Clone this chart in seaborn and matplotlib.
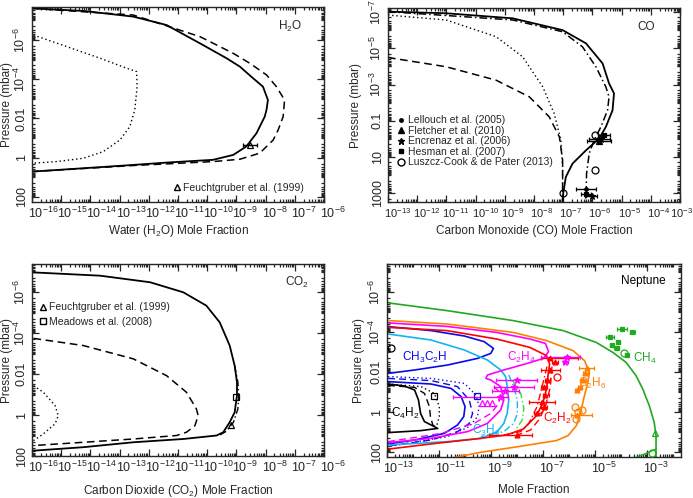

# Four-panel vertical profiles of oxygen species and hydrocarbons (Neptune)
import numpy as np
import matplotlib
matplotlib.use('Agg')
import matplotlib.pyplot as plt
import seaborn as sns
from matplotlib.ticker import FixedLocator, LogLocator, FuncFormatter, NullFormatter, LogFormatterMathtext
from matplotlib.transforms import ScaledTranslation
from matplotlib.lines import Line2D

sns.set_style('ticks')
plt.rcParams['font.family'] = ['Liberation Sans', 'DejaVu Sans']
plt.rcParams['mathtext.fontset'] = 'custom'
plt.rcParams['mathtext.rm'] = 'Liberation Sans'
plt.rcParams['mathtext.it'] = 'Liberation Sans:italic'
plt.rcParams['mathtext.bf'] = 'Liberation Sans:bold'

# --- data: log10(mole fraction), log10(pressure / mbar) ---
# H2O
h2o_solid_x = [-16.0, -14.24, -12.53, -11.39, -10.25, -9.34, -8.88, -8.43, -8.09, -7.92, -7.97, -8.03, -8.31, -8.66, -9.11, -9.80, -11.39, -12.53, -14.24, -16.0]
h2o_solid_p = [-7.61, -7.48, -7.19, -6.76, -5.83, -5.07, -4.64, -4.05, -3.62, -2.94, -2.43, -2.09, -1.25, -0.57, -0.14, 0.11, 0.25, 0.37, 0.54, 0.71]
h2o_dash_x = [-16.0, -12.53, -10.25, -9.11, -8.54, -7.97, -7.63, -7.35, -7.40, -7.57, -7.74, -8.20, -8.88, -9.80, -12.53, -16.0]
h2o_dash_p = [-7.61, -7.27, -6.17, -5.32, -4.81, -4.22, -3.62, -2.94, -2.09, -1.41, -0.90, -0.23, 0.08, 0.20, 0.40, 0.71]
h2o_dot_x = [-15.95, -14.81, -13.67, -12.76, -12.42, -12.40, -12.48, -12.65, -12.99, -13.56, -14.24, -15.16, -15.95]
h2o_dot_p = [-6.25, -5.66, -5.07, -4.56, -4.39, -3.62, -2.43, -1.58, -0.90, -0.31, 0.03, 0.20, 0.28]
h2o_obs_x, h2o_obs_p, h2o_obs_lo, h2o_obs_hi = [-8.54], [-0.66], [-8.77], [-8.31]

# CO
co_solid_x = [-13.0, -11.01, -8.73, -7.02, -6.22, -5.65, -5.43, -5.26, -5.31, -5.54, -5.77, -6.22, -6.68, -6.91, -7.00, -7.02]
co_solid_p = [-7.02, -6.93, -6.65, -6.0, -5.27, -4.16, -3.06, -2.51, -1.58, -0.66, -0.02, 0.63, 1.36, 2.10, 3.02, 3.48]
co_dashdot_x = [-13.0, -8.73, -7.02, -6.34, -5.88, -5.54, -5.43, -5.48, -5.71, -5.94, -6.11, -6.20, -6.22]
co_dashdot_p = [-7.02, -6.56, -5.91, -5.08, -3.98, -2.87, -2.32, -1.58, -0.66, 0.07, 0.81, 1.91, 3.48]
co_dot_x = [-13.0, -11.01, -9.30, -8.39, -7.70, -7.31, -7.08, -7.02, -7.02]
co_dot_p = [-6.83, -6.56, -5.64, -4.53, -2.87, -1.40, 0.07, 1.55, 3.48]
co_dash_x = [-13.0, -11.01, -9.30, -8.16, -7.48, -7.13, -7.02, -7.02]
co_dash_p = [-4.49, -3.98, -3.24, -2.32, -1.22, -0.11, 1.18, 3.48]
co_lellouch_x, co_lellouch_p, co_lellouch_lo, co_lellouch_hi = [-6.22], [2.74], [-6.56], [-5.88]
co_fletcher_x, co_fletcher_p, co_fletcher_lo, co_fletcher_hi = [-5.77], [0.11], [-6.20], [-5.35]
co_encrenaz_x, co_encrenaz_p, co_encrenaz_lo, co_encrenaz_hi = [-5.70, -6.00], [-0.02, 3.17], [-6.10, -6.25], [-5.40, -5.85]
co_hesman_x, co_hesman_p, co_hesman_lo, co_hesman_hi = [-5.60, -6.22], [-0.20, 3.02], [-5.80, -6.40], [-5.40, -6.05]
co_luszcz_x, co_luszcz_p = [-5.90, -5.90, -7.02], [-0.20, 1.73, 2.98]

# CO2
co2_solid_x = [-15.95, -13.67, -11.96, -10.82, -10.03, -9.57, -9.23, -9.06, -8.98, -8.98, -9.06, -9.23, -9.45, -9.68, -10.82, -12.53, -14.24, -15.95]
co2_solid_p = [-6.96, -6.80, -6.48, -5.99, -5.34, -4.52, -3.39, -2.41, -1.60, -0.95, -0.13, 0.35, 0.84, 1.00, 1.17, 1.33, 1.57, 1.74]
co2_dashdot_x = [-9.06, -8.95, -8.92, -8.95, -9.10, -9.35, -9.60]
co2_dashdot_p = [-2.41, -1.60, -0.95, -0.30, 0.35, 0.80, 1.00]
co2_dash_x = [-15.95, -14.24, -12.53, -11.39, -10.71, -10.37, -10.31, -10.42, -10.71, -11.05, -12.53, -14.24, -15.95]
co2_dash_p = [-3.74, -3.39, -2.74, -1.92, -1.11, -0.30, 0.03, 0.52, 0.84, 1.00, 1.17, 1.33, 1.49]
co2_dot_x = [-15.95, -15.61, -15.21, -15.10, -15.21, -15.61, -15.95]
co2_dot_p = [-1.43, -1.11, -0.46, 0.03, 0.43, 0.92, 1.25]
co2_feucht_x, co2_feucht_p = [-9.20], [0.47]
co2_meadows_x, co2_meadows_p = [-9.02], [-0.90]

# Neptune hydrocarbons
ch4_x = [-12.92, -10.70, -8.15, -6.23, -4.96, -4.32, -3.81, -3.43, -3.17, -2.92, -2.73, -2.66, -2.66]
ch4_p = [-5.45, -5.07, -4.57, -4.07, -3.48, -2.98, -2.48, -1.82, -1.15, -0.32, 0.52, 1.18, 2.35]
ch4_deep_x = [-3.47, -3.01, -2.66]
ch4_deep_p = [2.30, 2.05, 1.85]
c2h6_x = [-12.92, -10.70, -8.15, -6.87, -5.85, -5.41, -5.22, -5.28, -5.41, -5.53, -5.72, -6.04, -6.49, -8.15, -9.42, -10.70]
c2h6_p = [-4.57, -4.40, -3.98, -3.57, -3.07, -2.57, -1.98, -1.48, -0.82, -0.15, 0.68, 1.18, 1.43, 1.77, 2.02, 2.35]
c2h2_x = [-12.92, -10.70, -8.79, -7.51, -6.87, -6.75, -6.81, -6.87, -7.00, -7.25, -7.76, -8.41, -9.42, -11.33, -12.92]
c2h2_p = [-4.23, -4.07, -3.65, -3.23, -2.82, -2.40, -1.82, -1.15, -0.48, 0.18, 0.85, 1.15, 1.32, 1.60, 1.85]
c2h2_dashdot_x = [-6.85, -7.04, -7.23, -7.55, -7.86, -8.51]
c2h2_dashdot_p = [-2.27, -1.27, -0.27, 0.57, 0.98, 1.15]
c2h2_dash_x = [-6.66, -6.72, -6.91, -7.17, -7.48, -7.99]
c2h2_dash_p = [-2.27, -1.27, -0.27, 0.40, 0.90, 1.15]
c2h4_x = [-12.92, -10.70, -8.79, -7.51, -6.91, -6.79, -6.98, -7.61, -8.51, -9.14, -9.20, -9.01, -8.63, -8.51, -8.63, -9.14, -9.90, -11.31, -12.96]
c2h4_p = [-4.45, -4.28, -3.98, -3.65, -3.43, -3.02, -2.68, -2.43, -2.10, -1.85, -1.68, -1.60, -1.27, -0.60, -0.10, 0.57, 0.98, 1.32, 1.53]
c2h4_dash_x = [-12.96, -10.92, -9.65, -9.01, -8.70, -8.63, -8.89]
c2h4_dash_p = [1.48, 1.07, 0.57, 0.07, -0.43, -0.93, -1.27]
c3h8_x = [-12.96, -11.31, -10.03, -9.14, -8.63, -8.44, -8.38, -8.32, -8.38, -8.51, -8.76, -9.39, -10.67, -12.96]
c3h8_p = [-3.90, -3.60, -3.10, -2.60, -2.10, -1.77, -1.27, -0.60, 0.07, 0.57, 0.98, 1.32, 1.48, 1.65]
c3h8_dashdot_x = [-8.32, -8.13, -7.99, -7.99, -8.13, -8.51, -9.39]
c3h8_dashdot_p = [-1.85, -1.27, -0.60, 0.07, 0.57, 0.98, 1.23]
c3h8_alt_x = [-8.19, -7.86, -7.74, -7.80, -8.06]
c3h8_alt_p = [-1.60, -0.93, -0.18, 0.40, 0.90]
ch3c2h_x = [-12.96, -11.31, -10.03, -9.27, -8.91, -9.01, -9.52, -10.67, -11.94, -12.96]
ch3c2h_p = [-4.27, -4.07, -3.80, -3.52, -3.18, -2.93, -2.68, -2.35, -2.10, -1.93]
ch3c2h_low_x = [-12.96, -11.31, -10.54, -10.15, -10.00, -10.05, -10.29, -10.80, -11.94, -12.96]
ch3c2h_low_p = [-1.52, -1.40, -1.18, -0.77, -0.27, 0.23, 0.65, 1.07, 1.40, 1.60]
ch3c2h_dash_x = [-12.96, -11.30, -10.29, -9.84, -9.71, -9.84, -10.29, -11.30, -12.96]
ch3c2h_dash_p = [-1.68, -1.57, -1.27, -0.60, 0.07, 0.57, 0.98, 1.40, 1.70]
ch3c2h_dot_x = [-12.96, -11.30, -10.03, -9.58, -9.46, -9.52, -9.84, -10.67, -12.96]
ch3c2h_dot_p = [-1.77, -1.68, -1.43, -0.85, -0.27, 0.23, 0.73, 1.23, 1.73]
c4h2_x = [-12.96, -12.33, -11.94, -11.79, -11.71, -11.56, -11.05, -11.69, -12.96]
c4h2_p = [-1.40, -1.30, -1.10, -0.60, 0.07, 0.48, 0.82, 0.93, 1.03]
c4h2_dash_x = [-12.96, -11.94, -11.56, -11.37, -11.33, -11.24, -11.05]
c4h2_dash_p = [-1.33, -1.23, -0.93, -0.27, 0.23, 0.65, 0.82]
c4h2_dot_x = [-12.96, -11.69, -11.18, -10.99, -10.99, -11.08]
c4h2_dot_p = [-1.40, -1.27, -0.93, -0.27, 0.23, 0.65]

# Neptune observations: x, p, x-error low, x-error high
ch4_obs_x = [-3.98, -3.60, -4.42, -4.11, -4.17, -3.79, -4.36]
ch4_obs_p = [-4.13, -3.98, -3.77, -3.52, -3.18, -2.85, -3.35]
ch4_obs_lo = [-4.17, -3.67, -4.57, -4.17, -4.27, -3.84, -4.42]
ch4_obs_hi = [-3.79, -3.47, -4.27, -4.05, -4.07, -3.74, -4.30]
ch4_open_x, ch4_open_p = [-3.91, -2.83], [-2.93, 2.03]
ch4_tri_x, ch4_tri_p = [-2.70], [1.07]
c2h6_obs_x = [-5.32, -5.38, -5.45, -5.57, -5.70, -5.70]
c2h6_obs_p = [-2.18, -1.93, -1.60, -1.27, -1.10, 0.15]
c2h6_obs_lo = [-5.63, -5.48, -5.53, -5.65, -5.78, -5.93]
c2h6_obs_hi = [-5.03, -5.28, -5.35, -5.49, -5.63, -5.13]
c2h6_open_x, c2h6_open_p = [-5.76, -5.64, -5.51, -5.73], [-0.27, -0.02, -0.10, 0.35]
c2h2_obs_x = [-6.72, -6.53, -6.72, -6.85, -6.98, -6.91, -7.04, -6.98, -7.23, -7.99]
c2h2_obs_p = [-2.68, -2.52, -2.10, -1.60, -1.27, -0.85, -0.52, -0.27, 0.07, 1.15]
c2h2_obs_lo = [-7.10, -6.64, -7.10, -6.94, -7.09, -6.99, -7.54, -7.09, -7.34, -9.09]
c2h2_obs_hi = [-5.65, -6.44, -6.34, -6.74, -6.86, -6.79, -6.54, -6.84, -7.09, -7.41]
c2h2_open_x, c2h2_open_p = [-6.47], [-1.77]
c2h4_obs_x = [-6.08, -6.14, -7.99, -8.13, -8.65, -8.45]
c2h4_obs_p = [-2.77, -2.52, -1.60, -1.27, -0.75, -1.05]
c2h4_obs_lo = [-7.10, -6.24, -8.82, -8.90, -10.45, -8.95]
c2h4_obs_hi = [-5.57, -6.03, -7.23, -7.34, -8.35, -7.94]
c2h4_tri_x, c2h4_tri_p = [-9.35, -9.14, -8.95], [-0.45, -0.43, -0.43]
ch3c2h_sq_x, ch3c2h_sq_p = [-9.56], [-0.80]
c4h2_sq_x, c4h2_sq_p = [-11.18], [-0.80]
c4h2_circ_x, c4h2_circ_p = [-12.84], [-3.20]

GREEN, ORANGE, RED = '#1faa1f', '#ff8000', '#ff0000'
MAGENTA, CYAN, BLUE, LGREEN = '#ff00ff', '#14b4f0', '#0a0ae6', '#33dd33'
DASH, DOT, DASHDOT = (0, (5, 3)), (0, (1, 2)), (0, (5, 2, 1, 2))


def E(v):
    return 10.0 ** np.asarray(v, dtype=float)


def curve(ax, xs, ps, color='black', ls='-', lw=1.3):
    sns.lineplot(x=E(xs), y=E(ps), ax=ax, color=color, linestyle=ls,
                 linewidth=lw, sort=False, estimator=None)


def obs(ax, xs, ps, lo=None, hi=None, color='black', marker='o', ms=3.5, mfc=None):
    x = E(xs)
    xerr = None
    if lo is not None:
        xerr = [x - E(lo), E(hi) - x]
    ax.errorbar(x, E(ps), xerr=xerr, fmt=marker, color=color, ms=ms,
                mfc=mfc if mfc else color, mec=color, elinewidth=1.0,
                capsize=1.5, capthick=1.0, mew=0.9, zorder=5)


def yfmt(v, pos):
    e = int(round(np.log10(v)))
    if e >= -2:
        return f'{v:g}'
    return r'$10^{%d}$' % e


def setup(ax, xlim, ylim, xmaj, ymaj, xlabel, xlab_y, ylab_x, xsize=9):
    ax.set_xscale('log')
    ax.set_yscale('log')
    ax.set_xlim(*xlim)
    ax.set_ylim(*ylim)
    ax.xaxis.set_major_locator(FixedLocator(xmaj))
    ax.yaxis.set_major_locator(FixedLocator(ymaj))
    ax.xaxis.set_minor_locator(LogLocator(base=10, subs=np.arange(1, 10), numticks=200))
    ax.yaxis.set_minor_locator(LogLocator(base=10, subs=np.arange(1, 10), numticks=200))
    ax.xaxis.set_major_formatter(LogFormatterMathtext())
    ax.yaxis.set_major_formatter(FuncFormatter(yfmt))
    ax.xaxis.set_minor_formatter(NullFormatter())
    ax.yaxis.set_minor_formatter(NullFormatter())
    ax.tick_params(which='both', direction='in', top=True, right=True, width=0.9, labelsize=9)
    ax.tick_params(which='major', length=5)
    ax.tick_params(which='minor', length=2.5)
    ax.tick_params(axis='x', pad=3, labelsize=xsize)
    ax.tick_params(axis='y', pad=3, labelrotation=90)
    for s in ax.spines.values():
        s.set_linewidth(1.0)
    ax.set_xlabel(xlabel, fontsize=8.5, va='center')
    ax.set_ylabel('Pressure (mbar)', fontsize=8.5, va='center')
    ax.xaxis.set_label_coords(0.5, xlab_y)
    ax.yaxis.set_label_coords(ylab_x, 0.5)


fig = plt.figure(figsize=(6.93, 4.98), dpi=100)
W, H = 693.0, 498.0
axA = fig.add_axes([32 / W, (H - 202) / H, 292 / W, 195 / H])
axB = fig.add_axes([388 / W, (H - 202) / H, 292 / W, 194 / H])
axC = fig.add_axes([32 / W, (H - 456) / H, 292 / W, 192 / H])
axD = fig.add_axes([387 / W, (H - 457) / H, 294 / W, 193 / H])

# --- H2O ---
dec_16_6 = [10.0 ** k for k in range(-16, -5)]
setup(axA, (1e-16, 1e-6), (10 ** 2.26, 10 ** -7.68), dec_16_6, [1e-6, 1e-4, 1e-2, 1, 100],
      r'Water (H$_2$O) Mole Fraction', -0.15, -0.085)
curve(axA, h2o_solid_x, h2o_solid_p)
curve(axA, h2o_dash_x, h2o_dash_p, ls=DASH, lw=1.1)
curve(axA, h2o_dot_x, h2o_dot_p, ls=DOT, lw=1.0)
obs(axA, h2o_obs_x, h2o_obs_p, h2o_obs_lo, h2o_obs_hi, marker='^', mfc='none', ms=4)
axA.text(0.884, 0.899, r'H$_2$O', transform=axA.transAxes, ha='center', va='center', fontsize=8.5)
axA.legend(handles=[Line2D([], [], ls='none', marker='^', mfc='none', mec='black', ms=5)],
           labels=['Feuchtgruber et al. (1999)'], loc='center right', bbox_to_anchor=(0.93, 0.072),
           frameon=False, fontsize=7.5, handlelength=0.6, handletextpad=0.2, borderpad=0, borderaxespad=0)

# --- CO ---
dec_13_3 = [10.0 ** k for k in range(-13, -2)]
setup(axB, (1e-13, 1e-3), (10 ** 3.48, 10 ** -7.22), dec_13_3, [1e-7, 1e-5, 1e-3, 0.1, 10, 1000],
      'Carbon Monoxide (CO) Mole Fraction', -0.15, -0.11, xsize=8)
curve(axB, co_solid_x, co_solid_p)
curve(axB, co_dashdot_x, co_dashdot_p, ls=DASHDOT, lw=1.1)
curve(axB, co_dot_x, co_dot_p, ls=DOT, lw=1.0)
curve(axB, co_dash_x, co_dash_p, ls=DASH, lw=1.1)
obs(axB, co_lellouch_x, co_lellouch_p, co_lellouch_lo, co_lellouch_hi, marker='o', ms=2.5)
obs(axB, co_fletcher_x, co_fletcher_p, co_fletcher_lo, co_fletcher_hi, marker='^', ms=4)
obs(axB, co_encrenaz_x, co_encrenaz_p, co_encrenaz_lo, co_encrenaz_hi, marker='*', ms=5)
obs(axB, co_hesman_x, co_hesman_p, co_hesman_lo, co_hesman_hi, marker='s', ms=2.5)
obs(axB, co_luszcz_x, co_luszcz_p, marker='o', mfc='none', ms=5)
axB.text(0.884, 0.904, 'CO', transform=axB.transAxes, ha='center', va='center', fontsize=8.5)
co_handles = [Line2D([], [], ls='none', marker='o', color='black', ms=2.5),
              Line2D([], [], ls='none', marker='^', color='black', ms=4),
              Line2D([], [], ls='none', marker='*', color='black', ms=5),
              Line2D([], [], ls='none', marker='s', color='black', ms=2.5),
              Line2D([], [], ls='none', marker='o', mfc='none', mec='black', ms=5)]
co_labels = ['Lellouch et al. (2005)', 'Fletcher et al. (2010)', 'Encrenaz et al. (2006)',
             'Hesman et al. (2007)', 'Luszcz-Cook & de Pater (2013)']
axB.legend(handles=co_handles, labels=co_labels, loc='upper left', bbox_to_anchor=(0.035, 0.447),
           frameon=False, fontsize=7.5, handlelength=0.6, handletextpad=0.3, labelspacing=0.05,
           borderpad=0, borderaxespad=0)

# --- CO2 ---
setup(axC, (1e-16, 1e-6), (10 ** 2.0, 10 ** -7.37), dec_16_6, [1e-6, 1e-4, 1e-2, 1, 100],
      r'Carbon Dioxide (CO$_2$) Mole Fraction', -0.18, -0.085)
curve(axC, co2_solid_x, co2_solid_p)
curve(axC, co2_dashdot_x, co2_dashdot_p, ls=DASHDOT, lw=1.0)
curve(axC, co2_dash_x, co2_dash_p, ls=DASH, lw=1.1)
curve(axC, co2_dot_x, co2_dot_p, ls=DOT, lw=1.0)
obs(axC, co2_feucht_x, co2_feucht_p, marker='^', mfc='none', ms=5)
obs(axC, co2_meadows_x, co2_meadows_p, marker='s', mfc='none', ms=5)
axC.text(0.906, 0.905, r'CO$_2$', transform=axC.transAxes, ha='center', va='center', fontsize=8.5)
axC.legend(handles=[Line2D([], [], ls='none', marker='^', mfc='none', mec='black', ms=5),
                    Line2D([], [], ls='none', marker='s', mfc='none', mec='black', ms=5)],
           labels=['Feuchtgruber et al. (1999)', 'Meadows et al. (2008)'], loc='upper left',
           bbox_to_anchor=(0.027, 0.80), frameon=False, fontsize=7.5, handlelength=0.6,
           handletextpad=0.3, labelspacing=0.4, borderpad=0, borderaxespad=0)

# --- Neptune ---
setup(axD, (1e-13, 10 ** -1.70), (10 ** 2.25, 10 ** -7.4), [1e-13, 1e-11, 1e-9, 1e-7, 1e-5, 1e-3],
      [1e-6, 1e-4, 1e-2, 1, 100], 'Mole Fraction', -0.17, -0.095)
curve(axD, c4h2_x, c4h2_p, lw=1.2)
curve(axD, c4h2_dash_x, c4h2_dash_p, ls=DASH, lw=1.0)
curve(axD, c4h2_dot_x, c4h2_dot_p, ls=DOT, lw=1.0)
curve(axD, ch3c2h_x, ch3c2h_p, BLUE, lw=1.2)
curve(axD, ch3c2h_low_x, ch3c2h_low_p, BLUE, lw=1.2)
curve(axD, ch3c2h_dash_x, ch3c2h_dash_p, BLUE, ls=DASH, lw=1.0)
curve(axD, ch3c2h_dot_x, ch3c2h_dot_p, BLUE, ls=DOT, lw=1.0)
curve(axD, c3h8_x, c3h8_p, CYAN, lw=1.2)
curve(axD, c3h8_dashdot_x, c3h8_dashdot_p, CYAN, ls=DASHDOT, lw=1.0)
curve(axD, c3h8_alt_x, c3h8_alt_p, LGREEN, ls=DASHDOT, lw=1.0)
curve(axD, c2h4_x, c2h4_p, MAGENTA, lw=1.2)
curve(axD, c2h4_dash_x, c2h4_dash_p, MAGENTA, ls=DASH, lw=1.0)
curve(axD, c2h2_x, c2h2_p, RED, lw=1.2)
curve(axD, c2h2_dashdot_x, c2h2_dashdot_p, RED, ls=DASHDOT, lw=1.0)
curve(axD, c2h2_dash_x, c2h2_dash_p, RED, ls=DASH, lw=1.0)
curve(axD, c2h6_x, c2h6_p, ORANGE, lw=1.2)
curve(axD, ch4_x, ch4_p, GREEN, lw=1.2)
curve(axD, ch4_deep_x, ch4_deep_p, GREEN, lw=1.0)

obs(axD, ch4_obs_x, ch4_obs_p, ch4_obs_lo, ch4_obs_hi, GREEN, marker='s', ms=3)
obs(axD, ch4_open_x, ch4_open_p, color=GREEN, marker='o', mfc='none', ms=5)
obs(axD, ch4_tri_x, ch4_tri_p, color=GREEN, marker='^', mfc='none', ms=5)
obs(axD, c2h6_obs_x, c2h6_obs_p, c2h6_obs_lo, c2h6_obs_hi, ORANGE, marker='^', ms=3.5)
obs(axD, c2h6_open_x, c2h6_open_p, color=ORANGE, marker='o', mfc='none', ms=5)
obs(axD, c2h2_obs_x, c2h2_obs_p, c2h2_obs_lo, c2h2_obs_hi, RED, marker='^', ms=3.5)
obs(axD, c2h2_open_x, c2h2_open_p, color=RED, marker='o', mfc='none', ms=5)
obs(axD, c2h4_obs_x, c2h4_obs_p, c2h4_obs_lo, c2h4_obs_hi, MAGENTA, marker='*', ms=4.5)
obs(axD, c2h4_tri_x, c2h4_tri_p, color=MAGENTA, marker='^', mfc='none', ms=4)
obs(axD, ch3c2h_sq_x, ch3c2h_sq_p, color=BLUE, marker='s', mfc='none', ms=5)
obs(axD, c4h2_sq_x, c4h2_sq_p, color='black', marker='s', mfc='none', ms=4)
obs(axD, c4h2_circ_x, c4h2_circ_p, color='black', marker='o', mfc='none', ms=5)

for txt, fx, fy, col in [(r'CH$_3$C$_2$H', 0.129, 0.518, BLUE), (r'C$_4$H$_2$', 0.061, 0.228, 'black'),
                         (r'C$_2$H$_4$', 0.456, 0.518, MAGENTA), (r'C$_3$H$_8$', 0.337, 0.135, CYAN),
                         (r'C$_2$H$_2$', 0.578, 0.202, RED), (r'C$_2$H$_6$', 0.697, 0.383, ORANGE),
                         (r'CH$_4$', 0.878, 0.513, GREEN), ('Neptune', 0.871, 0.912, 'black')]:
    axD.text(fx, fy, txt, transform=axD.transAxes, ha='center', va='center', fontsize=8.5, color=col)

# tick labels: x labels start just left of their tick (the one at the right
# figure edge is pulled in a little more), y labels centred on it
shift = ScaledTranslation(-4 / 100.0, 0, fig.dpi_scale_trans)
edge_shift = ScaledTranslation(-10 / 100.0, 0, fig.dpi_scale_trans)
for ax in (axA, axB, axC, axD):
    labels = ax.get_xticklabels()
    for i, lbl in enumerate(labels):
        lbl.set_ha('left')
        if ax is axB and i == len(labels) - 1:
            lbl.set_transform(lbl.get_transform() + edge_shift)
        else:
            lbl.set_transform(lbl.get_transform() + shift)
    plt.setp(ax.get_yticklabels(), va='center')

fig.savefig('out.png', dpi=100)
